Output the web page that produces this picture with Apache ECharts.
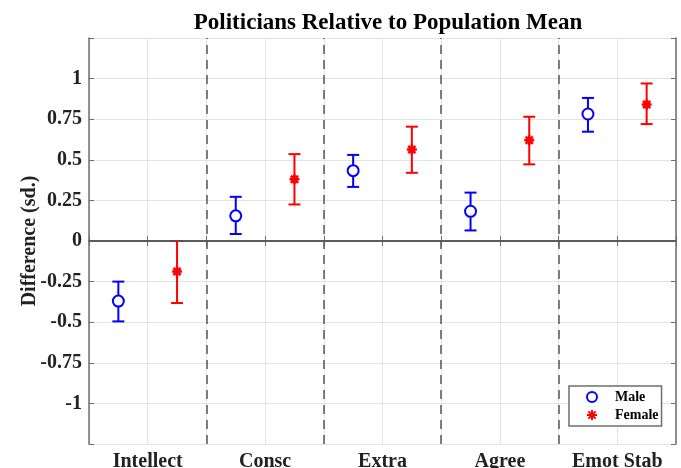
<!DOCTYPE html>
<html>
<head>
<meta charset="utf-8">
<script src="https://cdn.jsdelivr.net/npm/echarts@6/dist/echarts.min.js"></script>
<style>
html,body{margin:0;padding:0;background:#fff;}
#chart{width:681px;height:468px;}
</style>
</head>
<body>
<div id="chart"></div>
<script>
const categories = ['Intellect', 'Consc', 'Extra', 'Agree', 'Emot Stab'];
const maleMean = [-0.37, 0.155, 0.433, 0.183, 0.782];
const maleLow  = [-0.495, 0.043, 0.333, 0.065, 0.673];
const maleHigh = [-0.25, 0.272, 0.530, 0.298, 0.881];
const femaleMean = [-0.188, 0.380, 0.563, 0.620, 0.840];
const femaleLow  = [-0.382, 0.225, 0.420, 0.472, 0.720];
const femaleHigh = [0.0, 0.535, 0.704, 0.765, 0.970];
const yTicks = [-1, -0.75, -0.5, -0.25, 0, 0.25, 0.5, 0.75, 1];
const separators = [1.5, 2.5, 3.5, 4.5];

const FONT = '"Liberation Serif", "Times New Roman", serif';
const AXIS_COLOR = '#6e6e6e';
const GRID_COLOR = '#e3e3e3';
const OFFSET = 0.25;

const malePts = categories.map((c, i) => [i + 1 - OFFSET, maleMean[i]]);
const femalePts = categories.map((c, i) => [i + 1 + OFFSET, femaleMean[i]]);
const maleErr = categories.map((c, i) => [i + 1 - OFFSET, maleLow[i], maleHigh[i]]);
const femaleErr = categories.map((c, i) => [i + 1 + OFFSET, femaleLow[i], femaleHigh[i]]);

function errRender(color) {
  return function (params, api) {
    const x = api.value(0);
    const lo = api.coord([x, api.value(1)]);
    const hi = api.coord([x, api.value(2)]);
    const hw = 6;
    const style = { stroke: color, lineWidth: 2, fill: null };
    return {
      type: 'group',
      children: [
        { type: 'line', shape: { x1: lo[0], y1: lo[1], x2: hi[0], y2: hi[1] }, style },
        { type: 'line', shape: { x1: lo[0] - hw, y1: lo[1], x2: lo[0] + hw, y2: lo[1] }, style },
        { type: 'line', shape: { x1: hi[0] - hw, y1: hi[1], x2: hi[0] + hw, y2: hi[1] }, style }
      ]
    };
  };
}

const yLabelSet = new Set(yTicks.map(v => v.toFixed(2)));
function yFmt(v) {
  if (!yLabelSet.has(Number(v).toFixed(2))) return '';
  return String(Number(v));
}
function xFmt(v) {
  const r = Math.round(v);
  if (Math.abs(v - r) < 1e-6 && r >= 1 && r <= categories.length) return categories[r - 1];
  return '';
}

const axisCommon = {
  axisLine: { show: true, lineStyle: { color: AXIS_COLOR, width: 1.5 } },
  axisTick: { show: true, inside: true, length: 5, lineStyle: { color: AXIS_COLOR, width: 1 } },
};

const asterisk = 'path://M0,-5L0,5M-5,0L5,0M-3.6,-3.6L3.6,3.6M-3.6,3.6L3.6,-3.6';

const option = {
  backgroundColor: '#fff',
  animation: false,
  title: {
    text: 'Politicians Relative to Population Mean',
    left: 383, textAlign: 'center', top: 7,
    textStyle: { fontFamily: FONT, fontWeight: 'bold', fontSize: 23, color: '#000' }
  },
  grid: { left: 89, right: 5, top: 38, bottom: 24, containLabel: false, outerBoundsMode: 'none' },
  legend: {
    orient: 'vertical',
    left: 569, top: 386,
    padding: [4, 3, 4, 17],
    itemGap: 4,
    itemWidth: 30, itemHeight: 10,
    borderColor: AXIS_COLOR, borderWidth: 1.5,
    backgroundColor: '#fff',
    textStyle: { fontFamily: FONT, fontWeight: 'bold', fontSize: 14, color: '#000', lineHeight: 14, padding: [0, 0, 0, 3] },
    data: ['Male', 'Female']
  },
  xAxis: [
    Object.assign({
      type: 'value', position: 'bottom', min: 0.5, max: 5.5, interval: 0.5,
      axisLabel: { formatter: xFmt, margin: 8, hideOverlap: false, fontFamily: FONT, fontWeight: 'bold', fontSize: 20, color: '#222' },
      splitLine: { show: true, lineStyle: { color: GRID_COLOR, width: 1 } }
    }, axisCommon),
    Object.assign({
      type: 'value', position: 'top', min: 0.5, max: 5.5, interval: 0.5,
      axisLabel: { show: false }, splitLine: { show: false }
    }, axisCommon)
  ],
  yAxis: [
    Object.assign({
      type: 'value', position: 'left', min: -1.25, max: 1.25, interval: 0.25,
      name: 'Difference (sd.)', nameLocation: 'middle', nameGap: 49, nameRotate: 90, nameMoveOverlap: false,
      nameTextStyle: { fontFamily: FONT, fontWeight: 'bold', fontSize: 20, color: '#222' },
      axisLabel: { formatter: yFmt, margin: 7, padding: [12, 0, 0, 0], fontFamily: FONT, fontWeight: 'bold', fontSize: 20, color: '#222' },
      splitLine: { show: true, lineStyle: { color: GRID_COLOR, width: 1 } }
    }, axisCommon),
    Object.assign({
      type: 'value', position: 'right', min: -1.25, max: 1.25, interval: 0.25,
      axisLabel: { show: false }, splitLine: { show: false }
    }, axisCommon)
  ],
  series: [
    {
      type: 'custom', name: 'sep', silent: true, data: [],
      markLine: {
        silent: true, symbol: 'none', label: { show: false }, animation: false,
        data: separators.map(v => ({ xAxis: v, lineStyle: { color: '#555', type: [9, 6], width: 1.5 } }))
          .concat([{ yAxis: 0, lineStyle: { color: '#555', type: 'solid', width: 1.5 } }])
      },
      renderItem: () => null
    },
    { type: 'custom', name: 'MaleErr', data: maleErr, renderItem: errRender('#0000ff'), z: 3, silent: true },
    { type: 'custom', name: 'FemaleErr', data: femaleErr, renderItem: errRender('#ff0000'), z: 3, silent: true },
    {
      type: 'scatter', name: 'Male', data: malePts, symbol: 'circle', symbolSize: 11, z: 4,
      itemStyle: { color: '#fff', borderColor: '#0000ff', borderWidth: 2, opacity: 1 }
    },
    {
      type: 'scatter', name: 'Female', data: femalePts, symbol: asterisk, symbolSize: 10, z: 4,
      itemStyle: { color: '#ff0000', borderColor: '#ff0000', borderWidth: 2.5, opacity: 1 }
    }
  ]
};

const chart = echarts.init(document.getElementById('chart'), null, { renderer: 'canvas' });
chart.setOption(option);
</script>
</body>
</html>
